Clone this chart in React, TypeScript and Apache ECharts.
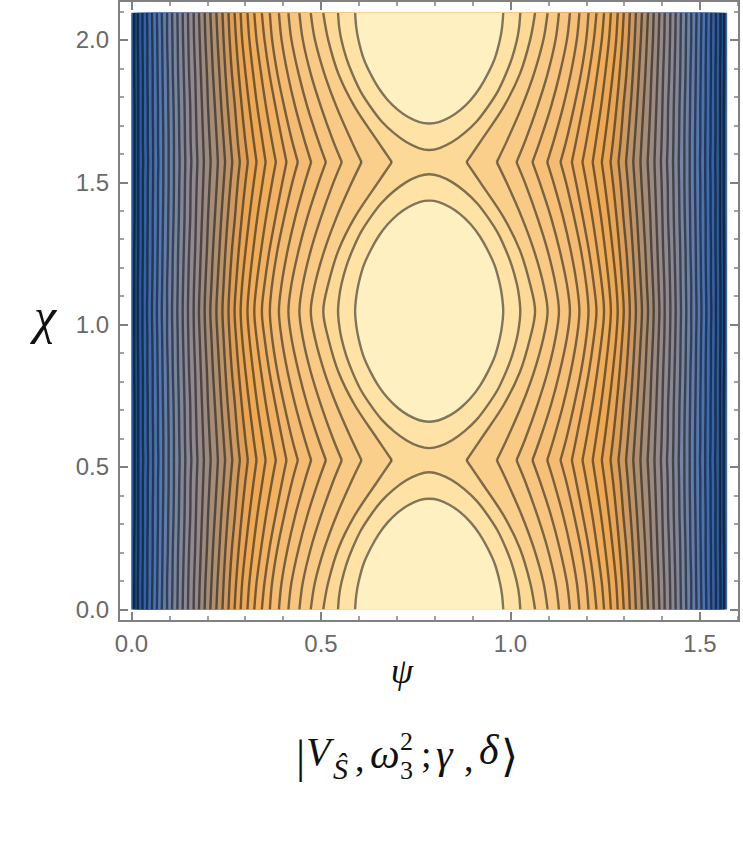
import React, { useEffect, useRef } from "react";
import * as echarts from "echarts";

const xMajorTicks = [0, 0.5, 1.0, 1.5];
const xMinorTicks = [0.1, 0.2, 0.3, 0.4, 0.6, 0.7, 0.8, 0.9, 1.1, 1.2, 1.3, 1.4, 1.6];
const yMajorTicks = [0, 0.5, 1.0, 1.5, 2.0];
const yMinorTicks = [0.1, 0.2, 0.3, 0.4, 0.6, 0.7, 0.8, 0.9, 1.1, 1.2, 1.3, 1.4, 1.6, 1.7, 1.8, 1.9, 2.1];

// chi values at which each open contour was read, from the peak row down to the kink row
const chiRows = [1.0472, 0.953, 0.8335, 0.7176, 0.6017, 0.5236];
// psi of the left branch of each open contour at those chi rows (outermost first)
const openContours = [
  [0.007, 0.007, 0.007, 0.008, 0.008, 0.008],
  [0.017, 0.017, 0.018, 0.018, 0.018, 0.018],
  [0.029, 0.029, 0.03, 0.03, 0.03, 0.031],
  [0.041, 0.042, 0.042, 0.043, 0.043, 0.044],
  [0.054, 0.055, 0.056, 0.056, 0.057, 0.057],
  [0.067, 0.068, 0.069, 0.07, 0.07, 0.071],
  [0.08, 0.081, 0.082, 0.083, 0.084, 0.084],
  [0.094, 0.094, 0.096, 0.097, 0.098, 0.098],
  [0.107, 0.108, 0.109, 0.111, 0.112, 0.112],
  [0.121, 0.122, 0.123, 0.125, 0.126, 0.127],
  [0.135, 0.136, 0.138, 0.14, 0.141, 0.142],
  [0.149, 0.15, 0.152, 0.155, 0.156, 0.158],
  [0.164, 0.165, 0.168, 0.17, 0.172, 0.174],
  [0.178, 0.18, 0.183, 0.186, 0.189, 0.191],
  [0.193, 0.195, 0.199, 0.202, 0.206, 0.209],
  [0.208, 0.211, 0.215, 0.22, 0.225, 0.228],
  [0.224, 0.227, 0.232, 0.237, 0.243, 0.247],
  [0.24, 0.243, 0.248, 0.254, 0.261, 0.266],
  [0.256, 0.259, 0.265, 0.273, 0.28, 0.286],
  [0.272, 0.276, 0.283, 0.291, 0.3, 0.307],
  [0.288, 0.292, 0.301, 0.311, 0.322, 0.33],
  [0.306, 0.311, 0.321, 0.332, 0.345, 0.354],
  [0.324, 0.33, 0.342, 0.355, 0.37, 0.381],
  [0.344, 0.351, 0.364, 0.38, 0.397, 0.409],
  [0.365, 0.371, 0.385, 0.403, 0.423, 0.439],
  [0.389, 0.396, 0.412, 0.432, 0.456, 0.474],
  [0.414, 0.422, 0.441, 0.464, 0.492, 0.513],
  [0.443, 0.452, 0.473, 0.5, 0.531, 0.555],
  [0.473, 0.484, 0.509, 0.541, 0.579, 0.607],
  [0.506, 0.519, 0.546, 0.589, 0.647, 0.687],
];
// closed contours: one quarter, [psi, chi] from the widest point to the lowest point
const outerOvalQuarter = [
  [0.545, 1.0472], [0.548, 0.998], [0.554, 0.952], [0.567, 0.889], [0.583, 0.833], [0.604, 0.773],
  [0.631, 0.717], [0.659, 0.668], [0.692, 0.626], [0.725, 0.594], [0.758, 0.573], [0.7854, 0.566],
];
const innerOvalQuarter = [
  [0.59, 1.0472], [0.593, 0.998], [0.599, 0.952], [0.612, 0.889], [0.631, 0.833], [0.652, 0.784],
  [0.676, 0.742], [0.703, 0.707], [0.73, 0.682], [0.76, 0.664], [0.7854, 0.659],
];
// band colours, from the plot's edge to the innermost region
const bandColors = [
  "#2a5a98", "#234e88", "#2d5c9c", "#3563a6", "#3f6bae", "#4a73b3", "#5678b0", "#627dab",
  "#6d81a6", "#7885a0", "#81879b", "#8a8896", "#918990", "#958a89", "#9b8a80", "#a38c78",
  "#ae8f70", "#bc946a", "#cc9a62", "#dca05b", "#e8a656", "#eda955", "#efae5c", "#f1b264",
  "#f3b76c", "#f4bb72", "#f6c078", "#f7c57f", "#f9ca85", "#facf8b", "#fdd997", "#ffe2a6",
  "#fff0c2",
];

const PSI_MAX = Math.PI / 2;
const PERIOD = Math.PI / 3;
const CHI_MAX = 2 * PERIOD;

type Pt = number[];
type Shape = { fill?: string; line?: boolean; closed?: boolean; pts: Pt[] };

function arc(row: number[], k: number): Pt[] {
  const c = k * PERIOD;
  const out: Pt[] = [];
  if (k > 0) for (let j = row.length - 1; j >= 0; j--) out.push([row[j], c - (chiRows[0] - chiRows[j])]);
  if (k < 2) for (let j = k > 0 ? 1 : 0; j < row.length; j++) out.push([row[j], c + (chiRows[0] - chiRows[j])]);
  return out;
}
const mirror = (pts: Pt[]) => pts.map((p) => [PSI_MAX - p[0], p[1]]);

function ovalHalf(q: Pt[], c: number, sign: number): Pt[] {
  const left = q.map((p) => [p[0], c + sign * (chiRows[0] - p[1])]);
  const right = mirror(left).reverse().slice(1);
  return [...left, ...right];
}

function buildShapes(): Shape[] {
  const fills: Shape[] = [];
  fills.push({ fill: bandColors[0], pts: [[0, 0], [PSI_MAX, 0], [PSI_MAX, CHI_MAX], [0, CHI_MAX]] });
  const strokes: Shape[] = [];
  openContours.forEach((row, i) => {
    const arcs = [arc(row, 0), arc(row, 1), arc(row, 2)];
    const left = [...arcs[0], ...arcs[1].slice(1), ...arcs[2].slice(1)];
    fills.push({ fill: bandColors[i + 1], pts: [...left, ...mirror(left).reverse()] });
    arcs.forEach((a) => {
      strokes.push({ line: true, pts: a });
      strokes.push({ line: true, pts: mirror(a) });
    });
  });
  [outerOvalQuarter, innerOvalQuarter].forEach((q, i) => {
    const fill = bandColors[openContours.length + 1 + i];
    const up0 = ovalHalf(q, 0, 1);
    const dn2 = ovalHalf(q, 2 * PERIOD, -1);
    const dn1 = ovalHalf(q, PERIOD, -1);
    const up1 = ovalHalf(q, PERIOD, 1);
    const whole = [...dn1, ...up1.slice().reverse().slice(1, -1)];
    fills.push({ fill, pts: up0 }, { fill, pts: dn2 }, { fill, pts: whole });
    strokes.push({ line: true, pts: up0 }, { line: true, pts: dn2 }, { line: true, closed: true, pts: whole });
  });
  return [...fills, ...strokes];
}

const shapes = buildShapes();

const serif = "'Liberation Serif','DejaVu Serif',serif";
const titlePieces = [
  { text: "|", x: 296, y: 756, size: 46, style: "normal" },
  { text: "V", x: 306, y: 751, size: 40, style: "italic" },
  { text: "Ŝ", x: 333, y: 768, size: 30, style: "italic" },
  { text: ",", x: 355, y: 758, size: 38, style: "normal" },
  { text: "ω", x: 370, y: 754, size: 42, style: "italic" },
  { text: "2", x: 400, y: 741, size: 26, style: "normal" },
  { text: "3", x: 400, y: 770, size: 26, style: "normal" },
  { text: ";", x: 421, y: 754, size: 38, style: "normal" },
  { text: "γ", x: 436, y: 754, size: 42, style: "italic" },
  { text: ",", x: 464, y: 758, size: 38, style: "normal" },
  { text: "δ", x: 479, y: 750, size: 42, style: "italic" },
  { text: "⟩", x: 501, y: 756, size: 44, style: "normal" },
];

const TICK = "#808080";
const common = { type: "value" as const, splitLine: { show: false } };

function axis(kind: "x" | "y", position: string, values: number[], length: number, labels: boolean, min: number, max: number) {
  return {
    ...common,
    min,
    max,
    position,
    axisLine: { show: true, onZero: false, lineStyle: { color: TICK, width: 2 } },
    axisTick: { show: true, inside: true, length, customValues: values, lineStyle: { color: TICK, width: length > 6 ? 2 : 1.5 } },
    axisLabel: labels
      ? {
          show: true,
          customValues: values,
          margin: 10,
          color: "#696969",
          fontFamily: "'Liberation Sans',Arial,sans-serif",
          fontSize: 24,
          formatter: (v: number) => v.toFixed(1),
        }
      : { show: false },
  };
}

export default function App() {
  const ref = useRef<HTMLDivElement>(null);
  useEffect(() => {
    const chart = echarts.init(ref.current!, undefined, { renderer: "svg" });
    const xMin = -0.033, xMax = 1.6029, yMin = -0.0411, yMax = 2.1367;
    chart.setOption({
      animation: false,
      backgroundColor: "#ffffff",
      grid: { left: 119, right: 4, top: 1, bottom: 221, containLabel: false },
      xAxis: [
        axis("x", "bottom", xMajorTicks, 9, true, xMin, xMax),
        axis("x", "bottom", xMinorTicks, 5, false, xMin, xMax),
        axis("x", "top", xMajorTicks, 9, false, xMin, xMax),
        axis("x", "top", xMinorTicks, 5, false, xMin, xMax),
      ],
      yAxis: [
        axis("y", "left", yMajorTicks, 9, true, yMin, yMax),
        axis("y", "left", yMinorTicks, 5, false, yMin, yMax),
        axis("y", "right", yMajorTicks, 9, false, yMin, yMax),
        axis("y", "right", yMinorTicks, 5, false, yMin, yMax),
      ],
      series: [
        {
          type: "custom",
          xAxisIndex: 0,
          yAxisIndex: 0,
          silent: true,
          clip: false,
          data: shapes.map((_, i) => [i]),
          encode: { x: 0 },
          renderItem: (params: any, api: any) => {
            const s = shapes[params.dataIndex];
            const points = s.pts.map((p) => api.coord(p));
            if (s.fill) return { type: "polygon", shape: { points }, style: { fill: s.fill, stroke: s.fill, lineWidth: 0.5 } };
            return {
              type: s.closed ? "polygon" : "polyline",
              shape: { points, smooth: 0.33 },
              style: { fill: "none", stroke: "rgba(0,0,0,0.5)", lineWidth: 2.4 },
            };
          },
        },
      ],
      graphic: [
        { type: "text", x: 45, y: 316, style: { text: "χ", font: `italic 50px ${serif}`, fill: "#111", align: "center", verticalAlign: "middle" } },
        { type: "text", x: 402, y: 671, style: { text: "ψ", font: `italic 36px ${serif}`, fill: "#111", align: "center", verticalAlign: "middle" } },
        ...titlePieces.map((p) => ({
          type: "text",
          x: p.x,
          y: p.y,
          style: { text: p.text, font: `${p.style} ${p.size}px ${serif}`, fill: "#111", align: "left", verticalAlign: "middle" },
        })),
      ],
    });
    return () => chart.dispose();
  }, []);
  return <div ref={ref} style={{ position: "absolute", left: 0, top: 0, width: 743, height: 842 }} />;
}
